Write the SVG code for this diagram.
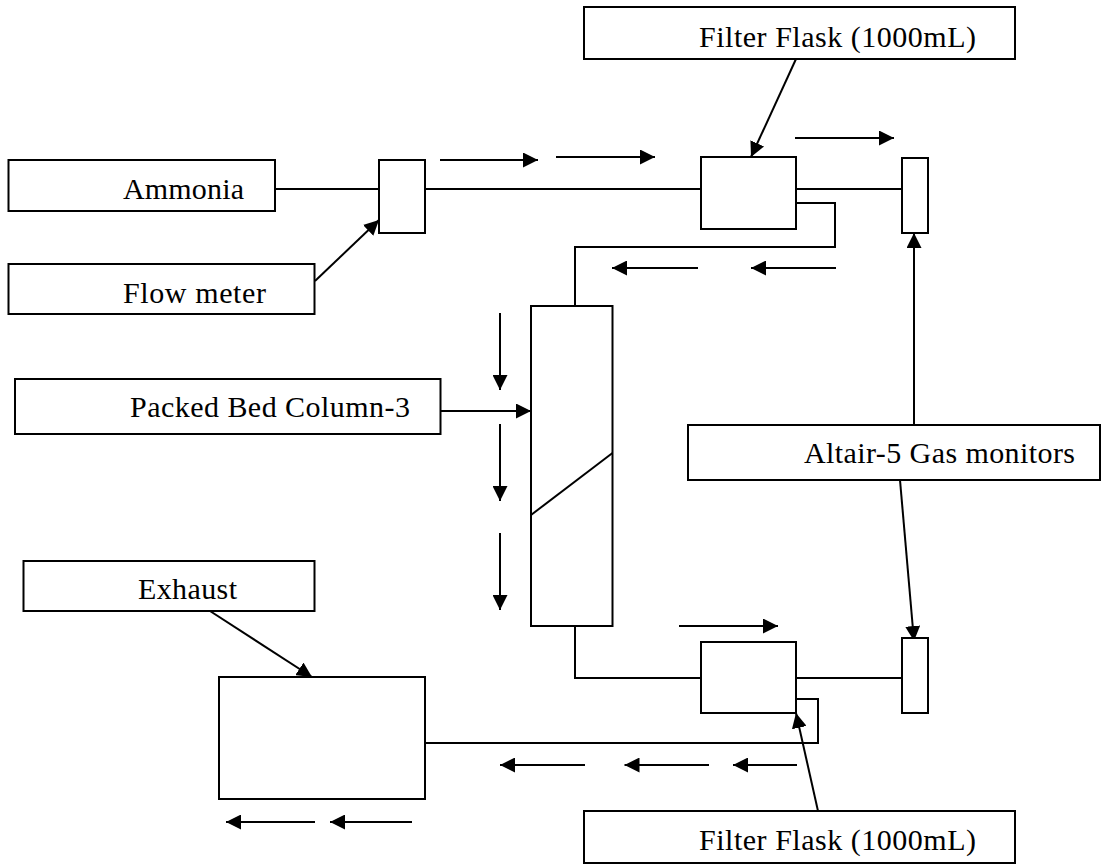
<svg xmlns="http://www.w3.org/2000/svg" width="1101" height="867" viewBox="0 0 1101 867">
<defs>
<marker id="ah" markerUnits="userSpaceOnUse" markerWidth="15" markerHeight="15" refX="15" refY="7.5" orient="auto">
<path d="M0,0 L15,7.5 L0,15 z" fill="#000"/>
</marker>
<style>
.box{fill:#fff;stroke:#000;stroke-width:2}
.ln{fill:none;stroke:#000;stroke-width:2}
.ar{fill:none;stroke:#000;stroke-width:2;marker-end:url(#ah)}
.t{font-family:"Liberation Serif","Times New Roman",serif;font-size:30px;fill:#000}
</style>
</defs>
<rect width="1101" height="867" fill="#fff"/>
<g id="connectors">
<polyline class="ln" points="275,189 379,189"/>
<polyline class="ln" points="425,189 701,189"/>
<polyline class="ln" points="796,189 902,189"/>
<polyline class="ln" points="796,203 835,203 835,247 575,247 575,306"/>
<polyline class="ln" points="575,626 575,678 701,678"/>
<polyline class="ln" points="796,678 902,678"/>
<polyline class="ln" points="796,699 818,699 818,743 425,743"/>
<line class="ar" x1="315" y1="281" x2="379" y2="220"/>
<line class="ar" x1="796" y1="59" x2="751" y2="157"/>
<line class="ar" x1="440.5" y1="411" x2="531" y2="411"/>
<line class="ar" x1="914" y1="425" x2="914" y2="233"/>
<line class="ar" x1="900" y1="480" x2="914" y2="641"/>
<line class="ar" x1="210" y1="611" x2="312" y2="677"/>
<line class="ar" x1="818" y1="811" x2="796" y2="713"/>
<line class="ar" x1="440" y1="160" x2="538" y2="160"/>
<line class="ar" x1="556" y1="157" x2="655" y2="157"/>
<line class="ar" x1="795" y1="138" x2="894" y2="138"/>
<line class="ar" x1="698" y1="268" x2="612" y2="268"/>
<line class="ar" x1="836" y1="268" x2="751" y2="268"/>
<line class="ar" x1="500" y1="313" x2="500" y2="390"/>
<line class="ar" x1="500" y1="424" x2="500" y2="501"/>
<line class="ar" x1="500" y1="533" x2="500" y2="610"/>
<line class="ar" x1="679" y1="626" x2="778" y2="626"/>
<line class="ar" x1="585" y1="765" x2="500" y2="765"/>
<line class="ar" x1="709" y1="765" x2="624.5" y2="765"/>
<line class="ar" x1="797" y1="765" x2="733" y2="765"/>
<line class="ar" x1="315" y1="822" x2="226" y2="822"/>
<line class="ar" x1="412" y1="822" x2="330" y2="822"/>
</g>
<g id="ammonia">
<rect class="box" x="8.5" y="160" width="266.5" height="51"/>
<text class="t" x="123" y="199" textLength="121" lengthAdjust="spacing">Ammonia</text>
</g>
<g id="flow-meter-label">
<rect class="box" x="8.5" y="264" width="306" height="50"/>
<text class="t" x="123" y="303" textLength="143" lengthAdjust="spacing">Flow meter</text>
</g>
<g id="flow-meter">
<rect class="box" x="379" y="160" width="46" height="73"/>
</g>
<g id="filter-flask-top-label">
<rect class="box" x="584" y="7" width="431" height="52"/>
<text class="t" x="699" y="47" textLength="277" lengthAdjust="spacing">Filter Flask (1000mL)</text>
</g>
<g id="filter-flask-top">
<rect class="box" x="701" y="157" width="95" height="72"/>
</g>
<g id="monitor-top">
<rect class="box" x="902" y="158" width="26" height="75"/>
</g>
<g id="column-label">
<rect class="box" x="15" y="379" width="425.5" height="55"/>
<text class="t" x="130" y="417" textLength="280" lengthAdjust="spacing">Packed Bed Column-3</text>
</g>
<g id="column">
<rect class="box" x="531" y="306" width="81.5" height="320"/>
<line class="ln" x1="531" y1="515" x2="612.5" y2="453"/>
</g>
<g id="altair-label">
<rect class="box" x="688" y="425" width="412" height="55"/>
<text class="t" x="804" y="463" textLength="271" lengthAdjust="spacing">Altair-5 Gas monitors</text>
</g>
<g id="exhaust-label">
<rect class="box" x="23.5" y="561" width="291" height="50"/>
<text class="t" x="138" y="599" textLength="99" lengthAdjust="spacing">Exhaust</text>
</g>
<g id="exhaust">
<rect class="box" x="219" y="677" width="206" height="122"/>
</g>
<g id="filter-flask-bottom">
<rect class="box" x="701" y="642" width="95" height="71"/>
</g>
<g id="monitor-bottom">
<rect class="box" x="902" y="638" width="26" height="75"/>
</g>
<g id="filter-flask-bottom-label">
<rect class="box" x="584" y="811" width="431" height="52"/>
<text class="t" x="699" y="850" textLength="277" lengthAdjust="spacing">Filter Flask (1000mL)</text>
</g>
</svg>
